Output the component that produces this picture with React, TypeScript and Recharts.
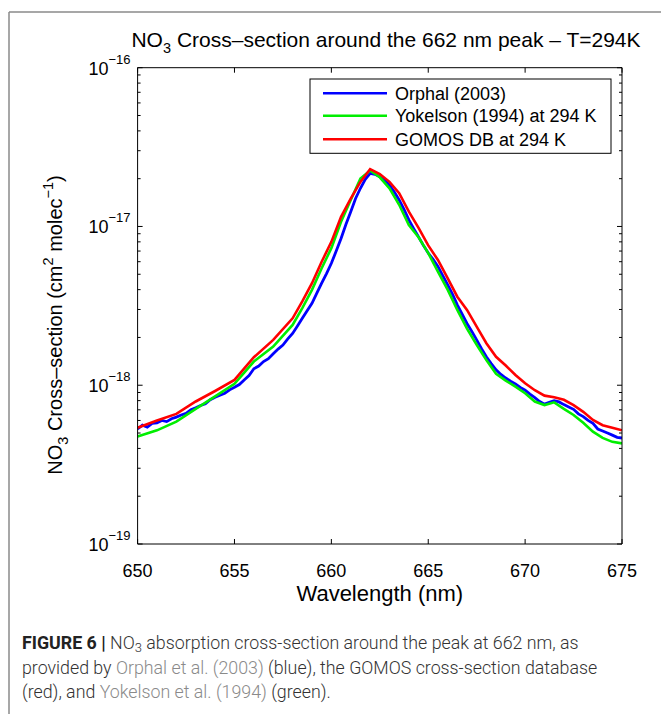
import React from "react";
import { LineChart, Line, XAxis, YAxis } from "recharts";

// ---------- data (cross-section values in units of 1e-18 cm^2 molec^-1) ----------
const orphalWavelength = [
  650.0, 650.25, 650.5, 650.75, 651.0, 651.25, 651.5, 651.75, 652.0, 652.25, 652.5, 652.75,
  653.0, 653.25, 653.5, 653.75, 654.0, 654.25, 654.5, 654.75, 655.0, 655.25, 655.5, 655.75,
  656.0, 656.25, 656.5, 656.75, 657.0, 657.25, 657.5, 657.75, 658.0, 658.25, 658.5, 658.75,
  659.0, 659.25, 659.5, 659.75, 660.0, 660.25, 660.5, 660.75, 661.0, 661.25, 661.5, 661.75,
  662.0, 662.25, 662.5, 662.75, 663.0, 663.25, 663.5, 663.75, 664.0, 664.25, 664.5, 664.75,
  665.0, 665.25, 665.5, 665.75, 666.0, 666.25, 666.5, 666.75, 667.0, 667.25, 667.5, 667.75,
  668.0, 668.25, 668.5, 668.75, 669.0, 669.25, 669.5, 669.75, 670.0, 670.25, 670.5, 670.75,
  671.0, 671.25, 671.5, 671.75, 672.0, 672.25, 672.5, 672.75, 673.0, 673.25, 673.5, 673.75,
  674.0, 674.25, 674.5, 674.75, 675.0,
];
const orphalValues = [
  0.53, 0.56, 0.545, 0.575, 0.58, 0.6, 0.59, 0.615, 0.63, 0.65, 0.665, 0.70,
  0.72, 0.745, 0.765, 0.81, 0.84, 0.865, 0.89, 0.935, 0.97, 1.01, 1.08, 1.15,
  1.27, 1.32, 1.41, 1.47, 1.58, 1.69, 1.79, 1.96, 2.12, 2.36, 2.64, 2.95,
  3.28, 3.8, 4.39, 5.05, 5.86, 7.0, 8.4, 10.3, 12.4, 15.0, 17.4, 19.8,
  21.6, 21.3, 20.6, 19.6, 18.2, 16.5, 14.7, 12.8, 11.0, 9.7, 8.6, 7.6,
  6.8, 6.2, 5.6, 4.9, 4.3, 3.75, 3.21, 2.8, 2.45, 2.18, 1.93, 1.7,
  1.51, 1.37, 1.25, 1.17, 1.11, 1.06, 1.02, 0.97, 0.93, 0.88, 0.835, 0.79,
  0.76, 0.78, 0.8, 0.785, 0.755, 0.73, 0.705, 0.66, 0.635, 0.6, 0.575, 0.53,
  0.515, 0.5, 0.485, 0.47, 0.465,
];

const yokelsonWavelength = [
  650, 651, 652, 653, 654, 655, 656, 657, 658, 658.5, 659, 659.5, 660, 660.5, 661, 661.5,
  662, 662.5, 663, 663.5, 664, 664.5, 665, 665.5, 666, 666.5, 667, 667.5, 668, 668.5,
  669, 669.5, 670, 670.5, 671, 671.5, 672, 672.5, 673, 673.5, 674, 674.5, 675,
];
const yokelsonValues = [
  0.475, 0.52, 0.59, 0.71, 0.85, 1.02, 1.41, 1.75, 2.4, 3.06, 3.99, 5.46, 7.3, 10.7, 14.7, 20.0,
  22.5, 20.4, 17.4, 13.7, 10.2, 8.55, 6.8, 5.2, 4.0, 2.98, 2.27, 1.8, 1.44, 1.18,
  1.07, 0.98, 0.89, 0.79, 0.75, 0.78, 0.71, 0.65, 0.58, 0.51, 0.466, 0.44, 0.43,
];

const gomosWavelength = [
  650, 651, 652, 653, 654, 655, 656, 657, 658, 658.5, 659, 659.5, 660, 660.5, 661, 661.5,
  662, 662.5, 663, 663.5, 664, 664.5, 665, 665.5, 666, 666.5, 667, 667.5, 668, 668.5,
  669, 669.5, 670, 670.5, 671, 671.5, 672, 672.5, 673, 673.5, 674, 674.5, 675,
];
const gomosValues = [
  0.54, 0.6, 0.66, 0.79, 0.92, 1.08, 1.5, 1.93, 2.64, 3.37, 4.39, 6.0, 8.0, 11.5, 15.0, 19.1,
  23.0, 21.4, 19.1, 16.2, 12.4, 9.8, 7.6, 6.15, 4.72, 3.61, 2.98, 2.34, 1.84, 1.51,
  1.33, 1.16, 1.03, 0.93, 0.86, 0.84, 0.81, 0.75, 0.68, 0.605, 0.56, 0.54, 0.52,
];

const seriesNames = ["Orphal (2003)", "Yokelson (1994) at 294 K", "GOMOS DB at 294 K"];
const seriesColors = ["#0000ff", "#00ee00", "#ff0000"];

const xTicks = [650, 655, 660, 665, 670, 675];
const yMajorTicks = [0.1, 1, 10, 100];
const yMajorExponents = ["\u221219", "\u221218", "\u221217", "\u221216"];
const yMinorTicks = [
  0.2, 0.3, 0.4, 0.5, 0.6, 0.7, 0.8, 0.9, 2, 3, 4, 5, 6, 7, 8, 9, 20, 30, 40, 50, 60, 70, 80, 90,
];

const title = "Cross\u2013section around the 662 nm peak \u2013 T=294K";
const xLabel = "Wavelength (nm)";

// ---------- build rows ----------
const toRows = (w: number[], v: number[]) => w.map((x, i) => ({ w: x, v: v[i] }));
const orphalRows = toRows(orphalWavelength, orphalValues);
const yokelsonRows = toRows(yokelsonWavelength, yokelsonValues);
const gomosRows = toRows(gomosWavelength, gomosValues);
const allYTicks = [...yMajorTicks, ...yMinorTicks].sort((a, b) => a - b);

// ---------- layout ----------
const W = 661;
const H = 714;
const PL = 137.6;
const PR = 622;
const PT = 67.7;
const PB = 544;
const FONT = "'Liberation Sans', Arial, Helvetica, sans-serif";

const MAJ = 5;
const MIN = 3;

const LeftTick = (props: any) => {
  const { x, y, payload } = props;
  const v = payload.value;
  const mi = yMajorTicks.indexOf(v);
  const major = mi >= 0;
  return (
    <g>
      <line x1={x} x2={x + (major ? MAJ : MIN)} y1={y} y2={y} stroke="#000" strokeWidth={1} />
      {major && (
        <text x={x - 7} y={y + 7} textAnchor="end" fontSize={18} fontFamily={FONT} fill="#000">
          <tspan>10</tspan>
          <tspan dy={-11} fontSize={13}>{yMajorExponents[mi]}</tspan>
        </text>
      )}
    </g>
  );
};

const RightTick = (props: any) => {
  const { x, y, payload } = props;
  const major = yMajorTicks.indexOf(payload.value) >= 0;
  return <line x1={x} x2={x - (major ? MAJ : MIN)} y1={y} y2={y} stroke="#000" strokeWidth={1} />;
};

const BottomTick = (props: any) => {
  const { x, y, payload } = props;
  return (
    <g>
      <line x1={x} x2={x} y1={y} y2={y - MAJ} stroke="#000" strokeWidth={1} />
      <text x={x} y={y + 33} textAnchor="middle" fontSize={18} fontFamily={FONT} fill="#000">
        {payload.value}
      </text>
    </g>
  );
};

const TopTick = (props: any) => {
  const { x, y } = props;
  return <line x1={x} x2={x} y1={y} y2={y + MAJ} stroke="#000" strokeWidth={1} />;
};

export default function App() {
  const legendX = 310;
  const legendY = 79;
  const rowYs = [93.3, 115.7, 139.3];
  return (
    <div style={{ position: "absolute", left: 0, top: 0, width: W, height: H, background: "#fff" }}>
      <LineChart
        width={W}
        height={H}
        margin={{ top: PT - 10, right: W - PR - 10, bottom: H - PB - 30, left: PL - 60 }}
      >
        <XAxis
          xAxisId="b"
          dataKey="w"
          type="number"
          domain={[650, 675]}
          ticks={xTicks}
          interval={0}
          height={30}
          tickSize={0}
          tickMargin={0}
          tickLine={false}
          axisLine={{ stroke: "#000", strokeWidth: 1 }}
          tick={<BottomTick />}
          allowDataOverflow
        />
        <XAxis
          xAxisId="t"
          orientation="top"
          dataKey="w"
          type="number"
          domain={[650, 675]}
          ticks={xTicks}
          interval={0}
          height={10}
          tickSize={0}
          tickMargin={0}
          tickLine={false}
          axisLine={{ stroke: "#000", strokeWidth: 1 }}
          tick={<TopTick />}
          allowDataOverflow
        />
        <YAxis
          yAxisId="l"
          scale="log"
          type="number"
          domain={[0.1, 100]}
          ticks={allYTicks}
          interval={0}
          width={60}
          tickSize={0}
          tickMargin={0}
          tickLine={false}
          axisLine={{ stroke: "#000", strokeWidth: 1 }}
          tick={<LeftTick />}
          allowDataOverflow
        />
        <YAxis
          yAxisId="r"
          orientation="right"
          scale="log"
          type="number"
          domain={[0.1, 100]}
          ticks={allYTicks}
          interval={0}
          width={10}
          tickSize={0}
          tickMargin={0}
          tickLine={false}
          axisLine={{ stroke: "#000", strokeWidth: 1 }}
          tick={<RightTick />}
          allowDataOverflow
        />
        <Line
          xAxisId="b"
          yAxisId="l"
          data={orphalRows}
          dataKey="v"
          name={seriesNames[0]}
          stroke={seriesColors[0]}
          strokeWidth={2.8}
          dot={false}
          type="linear"
          isAnimationActive={false}
        />
        <Line
          xAxisId="b"
          yAxisId="l"
          data={yokelsonRows}
          dataKey="v"
          name={seriesNames[1]}
          stroke={seriesColors[1]}
          strokeWidth={2.6}
          dot={false}
          type="linear"
          isAnimationActive={false}
        />
        <Line
          xAxisId="b"
          yAxisId="l"
          data={gomosRows}
          dataKey="v"
          name={seriesNames[2]}
          stroke={seriesColors[2]}
          strokeWidth={2.6}
          dot={false}
          type="linear"
          isAnimationActive={false}
        />
      </LineChart>

      <svg
        width={W}
        height={H}
        style={{ position: "absolute", left: 0, top: 0, pointerEvents: "none" }}
      >
        {/* figure frame */}
        <line x1={9} x2={W} y1={12} y2={12} stroke="#8a8a8a" strokeWidth={1.5} />
        <line x1={9} x2={9} y1={12} y2={H} stroke="#8a8a8a" strokeWidth={1.5} />

        {/* title */}
        <text x={386} y={47} textAnchor="middle" fontSize={21} fontFamily={FONT} fill="#000">
          <tspan>NO</tspan>
          <tspan dy={6} fontSize={14.5}>3</tspan>
          <tspan dy={-6}> {title}</tspan>
        </text>

        {/* y label */}
        <text
          transform={`translate(62, 325) rotate(-90)`}
          textAnchor="middle"
          fontSize={20}
          fontFamily={FONT}
          fill="#000"
        >
          <tspan>NO</tspan>
          <tspan dy={6} fontSize={14.5}>3</tspan>
          <tspan dy={-6}> Cross{"\u2013"}section (cm</tspan>
          <tspan dy={-9} fontSize={14.5}>2</tspan>
          <tspan dy={9}> molec</tspan>
          <tspan dy={-9} fontSize={14.5}>{"\u2212"}1</tspan>
          <tspan dy={9}>)</tspan>
        </text>

        {/* x label */}
        <text x={(PL + PR) / 2} y={601} textAnchor="middle" fontSize={22} fontFamily={FONT} fill="#000">
          {xLabel}
        </text>

        {/* legend */}
        <rect x={legendX} y={legendY} width={301} height={74.3} fill="#fff" stroke="#000" strokeWidth={1} />
        {seriesNames.map((n, i) => (
          <g key={n}>
            <line x1={323} x2={387} y1={rowYs[i]} y2={rowYs[i]} stroke={seriesColors[i]} strokeWidth={2.6} />
            <text x={395} y={rowYs[i] + 6.5} fontSize={18} fontFamily={FONT} fill="#000">
              {n}
            </text>
          </g>
        ))}
      </svg>

      {/* caption */}
      <div
        style={{
          position: "absolute",
          left: 22,
          top: 631,
          width: 640,
          fontFamily: "Roboto, 'Liberation Sans', sans-serif",
          fontSize: 17.8,
          lineHeight: "24.5px",
          color: "#333",
          whiteSpace: "nowrap",
          fontWeight: 300,
        }}
      >
        <div>
          <span style={{ fontWeight: 700, color: "#222" }}>FIGURE 6 |</span> NO
          <sub style={{ fontSize: 13, verticalAlign: "-3px", lineHeight: 0 }}>3</sub> absorption cross-section around the peak at 662 nm, as
        </div>
        <div>
          provided by <span style={{ color: "#8a8a8a" }}>Orphal et al. (2003)</span> (blue), the GOMOS cross-section database
        </div>
        <div>
          (red), and <span style={{ color: "#8a8a8a" }}>Yokelson et al. (1994)</span> (green).
        </div>
      </div>
    </div>
  );
}
